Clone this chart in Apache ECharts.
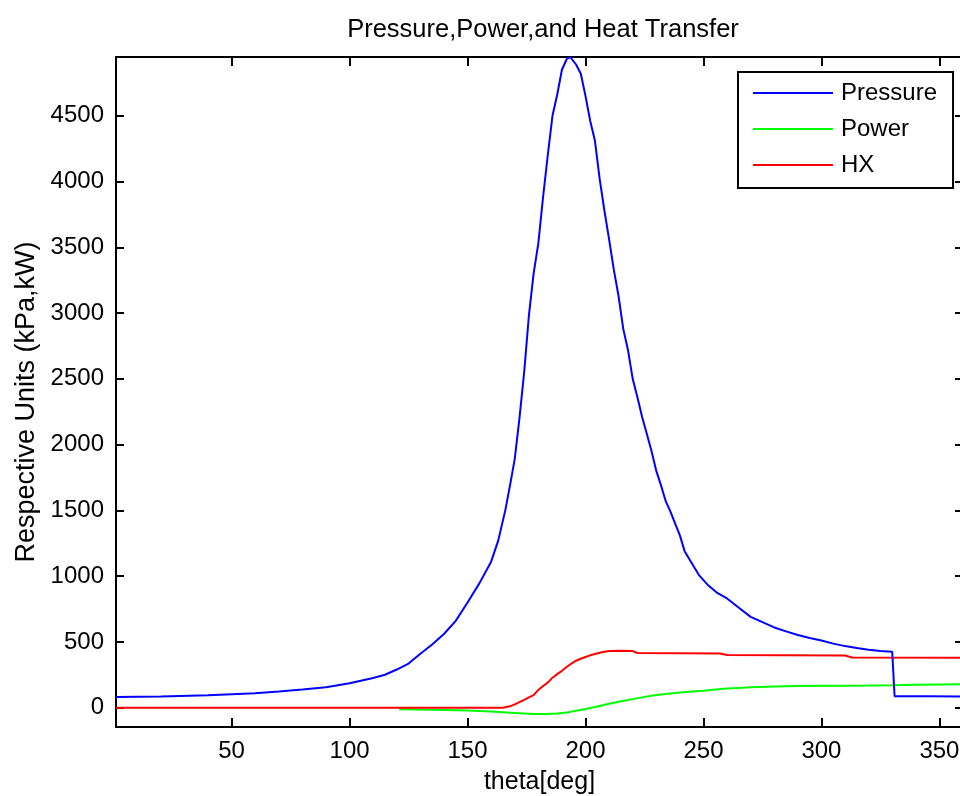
<!DOCTYPE html>
<html>
<head>
<meta charset="utf-8">
<script src="https://cdn.jsdelivr.net/npm/echarts@6/dist/echarts.min.js"></script>
<style>html,body{margin:0;padding:0;background:#fff}#c{width:960px;height:796px}</style>
</head>
<body>
<div id="c"></div>
<script>
// ---- data ----
var seriesNames = ['Pressure', 'Power', 'HX'];

var thetaPressure = [1, 20, 40, 60, 70, 80, 90, 100, 110, 115, 120, 125, 130, 135, 140, 145, 150, 155, 160, 163, 166, 168, 170, 172, 174, 176, 178, 180, 182, 184, 186, 188, 190, 192, 193.5, 196, 198, 200, 202, 204, 206, 208, 210, 212, 214, 216, 218, 220, 222, 224, 226, 228, 230, 232, 234, 236, 238, 240, 242, 245, 248, 252, 256, 260, 265, 270, 275, 280, 285, 290, 295, 300, 305, 310, 315, 320, 325, 330, 331, 345, 360];
var pressure = [81, 85, 95, 110, 122, 138, 155, 185, 225, 250, 290, 335, 410, 480, 560, 660, 800, 945, 1110, 1270, 1500, 1690, 1890, 2200, 2550, 2980, 3300, 3530, 3880, 4200, 4500, 4660, 4850, 4930, 4947, 4890, 4820, 4650, 4460, 4310, 4020, 3780, 3560, 3330, 3130, 2880, 2720, 2500, 2360, 2210, 2080, 1950, 1800, 1690, 1570, 1490, 1400, 1310, 1190, 1100, 1010, 930, 870, 830, 760, 690, 650, 610, 580, 553, 530, 510, 487, 468, 453, 440, 430, 425, 87, 86, 85];

var thetaPower = [121, 135, 150, 160, 170, 178, 183, 188, 193, 197, 200, 204, 210, 215, 220, 225, 230, 235, 240, 245, 250, 255, 260, 265, 270, 280, 290, 300, 310, 320, 330, 340, 350, 360];
var power = [-12, -16, -22, -30, -40, -48, -49, -44, -34, -20, -10, 5, 30, 48, 65, 82, 96, 106, 115, 122, 128, 138, 145, 150, 155, 160, 164, 166, 167, 168, 170, 174, 176, 178];

var thetaHX = [1, 165, 168, 170, 172, 174, 176, 178, 180, 182, 184, 186, 188, 190, 192, 194, 196, 198, 200, 202, 204, 206, 208, 210, 215, 220, 222, 240, 257, 260, 285, 310, 313, 360];
var hx = [0, 0, 10, 25, 42, 60, 78, 95, 135, 165, 190, 228, 255, 280, 309, 335, 357, 372, 385, 398, 408, 418, 425, 430, 432, 430, 416, 414, 412, 400, 398, 396, 382, 380];

var xRange = [1, 360];
var yRange = [-147, 4947];

function pairs(xs, ys) { return xs.map(function (x, i) { return [x, ys[i]]; }); }
function plain(v) { return String(Math.round(v)); }

var FONT = 'Liberation Sans, Arial, Helvetica, sans-serif';
var chart = echarts.init(document.getElementById('c'), null, { renderer: 'canvas' });

var axisLineStyle = { color: '#000', width: 2 };

chart.setOption({
  animation: false,
  backgroundColor: '#fff',
  title: {
    text: 'Pressure,Power,and Heat Transfer',
    left: 543, top: 30, padding: 0,
    textAlign: 'center', textVerticalAlign: 'middle',
    textStyle: { fontFamily: FONT, fontSize: 25.5, fontWeight: 'normal', color: '#000' }
  },
  graphic: [{
    type: 'text',
    x: 27, y: 402,
    rotation: Math.PI / 2,
    style: {
      text: 'Respective Units (kPa,kW)',
      font: '27px ' + FONT,
      fill: '#000',
      textAlign: 'center',
      textVerticalAlign: 'middle'
    }
  }],
  legend: {
    orient: 'vertical',
    left: 738, top: 72,
    padding: [9, 16, 11, 15],
    itemGap: 12,
    itemWidth: 80, itemHeight: 2,
    icon: 'rect',
    backgroundColor: '#fff',
    borderColor: '#000', borderWidth: 2, borderRadius: 0,
    textStyle: { fontFamily: FONT, fontSize: 24, color: '#000', lineHeight: 24, padding: [0, 0, 0, 3] },
    data: seriesNames
  },
  grid: { left: 116, right: -3, top: 57, bottom: 69, containLabel: false, outerBoundsMode: 'none' },
  xAxis: [{
    type: 'value', position: 'bottom',
    min: xRange[0], max: xRange[1], splitNumber: 7,
    name: 'theta[deg]', nameLocation: 'middle', nameGap: 43,
    nameTextStyle: { fontFamily: FONT, fontSize: 25, color: '#000' },
    axisLine: { show: true, onZero: false, lineStyle: axisLineStyle },
    axisTick: { show: true, inside: true, length: 9, lineStyle: axisLineStyle },
    axisLabel: { show: true, margin: 12, showMinLabel: false, showMaxLabel: false, formatter: plain, fontFamily: FONT, fontSize: 24, color: '#000' },
    splitLine: { show: false }
  }, {
    type: 'value', position: 'top',
    min: xRange[0], max: xRange[1], splitNumber: 7,
    axisLine: { show: true, onZero: false, lineStyle: axisLineStyle },
    axisTick: { show: true, inside: true, length: 9, lineStyle: axisLineStyle },
    axisLabel: { show: false },
    splitLine: { show: false }
  }],
  yAxis: [{
    type: 'value', position: 'left',
    min: yRange[0], max: yRange[1], splitNumber: 10,
    axisLine: { show: true, onZero: false, lineStyle: axisLineStyle },
    axisTick: { show: true, inside: true, length: 8, lineStyle: axisLineStyle },
    axisLabel: { show: true, margin: 12, showMinLabel: false, showMaxLabel: false, formatter: plain, fontFamily: FONT, fontSize: 24, color: '#000' },
    splitLine: { show: false }
  }, {
    type: 'value', position: 'right',
    min: yRange[0], max: yRange[1], splitNumber: 10,
    axisLine: { show: true, onZero: false, lineStyle: axisLineStyle },
    axisTick: { show: true, inside: true, length: 8, lineStyle: axisLineStyle },
    axisLabel: { show: false },
    splitLine: { show: false }
  }],
  series: [{
    name: seriesNames[0], type: 'line', xAxisIndex: 0, yAxisIndex: 0,
    data: pairs(thetaPressure, pressure),
    showSymbol: false, symbol: 'none', color: '#0000ff',
    lineStyle: { color: '#0000ff', width: 2 }, z: 3
  }, {
    name: seriesNames[1], type: 'line', xAxisIndex: 0, yAxisIndex: 0,
    data: pairs(thetaPower, power),
    showSymbol: false, symbol: 'none', color: '#00ff00',
    lineStyle: { color: '#00ff00', width: 2 }, z: 2
  }, {
    name: seriesNames[2], type: 'line', xAxisIndex: 0, yAxisIndex: 0,
    data: pairs(thetaHX, hx),
    showSymbol: false, symbol: 'none', color: '#ff0000',
    lineStyle: { color: '#ff0000', width: 2 }, z: 2
  }]
});
</script>
</body>
</html>
